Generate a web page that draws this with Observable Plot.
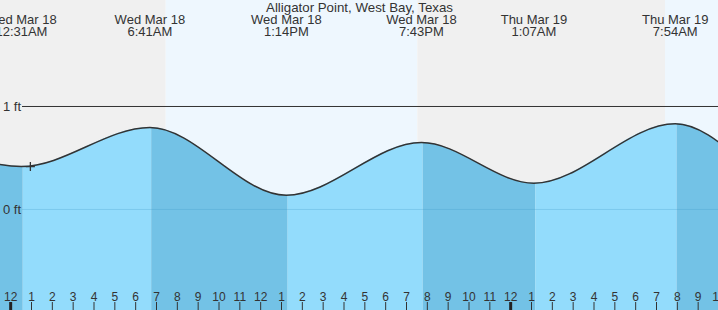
<!DOCTYPE html>
<html><head><meta charset="utf-8">
<script src="https://cdn.jsdelivr.net/npm/d3@7"></script>
<script src="https://cdn.jsdelivr.net/npm/@observablehq/plot@0.6"></script>
<style>body{margin:0;background:#fff} svg{display:block}</style>
</head><body><div id="chart"></div>
<script>
const title = "Alligator Point, West Bay, Texas";
// hours since Wed Mar 18, 00:00
const tideHours = [-12.3, -5.8, 0.517, 6.683, 13.233, 19.717, 25.117, 31.9, 38.2, 44.6];
const tideFeet  = [0.30, 0.70, 0.417, 0.796, 0.138, 0.650, 0.255, 0.832, 0.14, 0.70];
const tideDays  = [null, null, "Wed Mar 18", "Wed Mar 18", "Wed Mar 18", "Wed Mar 18", "Thu Mar 19", "Thu Mar 19", null, null];
const tideClock = [null, null, "12:31AM", "6:41AM", "1:14PM", "7:43PM", "1:07AM", "7:54AM", null, null];
const sunEdges  = [-1, 7.466, 19.543, 31.433, 35];
const sunKinds  = ["night", "day", "night", "day"];
const hourValues = [0,1,2,3,4,5,6,7,8,9,10,11,12,13,14,15,16,17,18,19,20,21,22,23,24,25,26,27,28,29,30,31,32,33,34];
const hourLabels = ["12","1","2","3","4","5","6","7","8","9","10","11","12","1","2","3","4","5","6","7","8","9","10","11","12","1","2","3","4","5","6","7","8","9","10"];
const midnights = [0, 24];
const levelTicks = [1, 0];
const levelLabels = ["1 ft", "0 ft"];
const nowHour = 0.946, nowFeet = 0.417;
const xDomain = [-0.488, 33.976];
const yDomain = [-0.9806, 2.0291];

const tide = tideHours.map((h, i) => ({h, ft: tideFeet[i]}));
const water = tideHours.slice(0, -1).map((h, i) => ({x1: h, x2: tideHours[i + 1], falling: tideFeet[i + 1] < tideFeet[i]}));
const sky = sunKinds.map((k, i) => ({x1: sunEdges[i], x2: sunEdges[i + 1], kind: k}));
const tideLabels = tideHours.map((h, i) => ({h, text: tideDays[i] ? tideDays[i] + "\n" + tideClock[i] : null})).filter(d => d.text);
const plusSymbol = {draw(ctx) { const r = 4.5; ctx.moveTo(-r, 0); ctx.lineTo(r, 0); ctx.moveTo(0, -r); ctx.lineTo(0, r); }};

const plot = Plot.plot({
  width: 718, height: 310, margin: 0,
  x: {domain: xDomain, axis: null},
  y: {domain: yDomain, axis: null},
  style: {fontFamily: "'Liberation Sans', Arial, sans-serif", background: "transparent", overflow: "hidden"},
  marks: [
    Plot.rect(sky, {x1: "x1", x2: "x2", fill: d => d.kind === "day" ? "#eef7fe" : "#f0f0f0"}),
    Plot.rect(water, {x1: "x1", x2: "x2", dx: 1.8, fill: d => d.falling ? "#73c2e6" : "#93dcfc"}),
    Plot.areaY(tide, {x: "h", y1: yDomain[0], y2: "ft", curve: "monotone-x", fill: "black"}),
    Plot.ruleY([0], {stroke: "rgb(60,150,200)", strokeOpacity: 0.25, insetLeft: 22}),
    Plot.ruleY([1], {stroke: "#333", insetLeft: 22}),
    Plot.line(tide, {x: "h", y: "ft", curve: "monotone-x", stroke: "#333", strokeWidth: 1.5}),
    Plot.dot([{h: nowHour, ft: nowFeet}], {x: "h", y: "ft", symbol: plusSymbol, r: 4.5, fill: "none", stroke: "#333", strokeWidth: 1.3}),
    Plot.text(tideLabels, {x: "h", text: "text", frameAnchor: "top", lineAnchor: "top", dy: 14.8, lineHeight: 0.923, fontSize: 13, fill: "#333"}),
    Plot.text([title], {frameAnchor: "top", lineAnchor: "top", dy: 1.6, fontSize: 13.3, fill: "#333"}),
    Plot.text(levelTicks, {y: d => d, text: (d, i) => levelLabels[i], frameAnchor: "left", textAnchor: "start", dx: 2.5, fontSize: 13, fill: "#333"}),
    Plot.ruleX(hourValues, {insetTop: 302, stroke: "#333"}),
    Plot.ruleX(midnights, {insetTop: 302, stroke: "#222", strokeWidth: 3}),
    Plot.text(hourValues, {x: d => d, text: (d, i) => hourLabels[i], frameAnchor: "bottom", lineAnchor: "middle", dy: -13.8, fontSize: 12, fill: "#333"})
  ]
});

// clip the water bands to the area under the tide curve
const svgNode = plot.tagName.toLowerCase() === "svg" ? plot : plot.querySelector("svg");
const layers = Array.from(svgNode.children).filter(n => !["style", "defs", "title", "desc"].includes(n.tagName.toLowerCase()));
const waterNode = layers[1], areaNode = layers[2];
const areaPath = areaNode.tagName.toLowerCase() === "path" ? areaNode : areaNode.querySelector("path");
const NS = "http://www.w3.org/2000/svg";
const defs = document.createElementNS(NS, "defs");
const cp = document.createElementNS(NS, "clipPath");
cp.setAttribute("id", "waterclip");
const p = document.createElementNS(NS, "path");
p.setAttribute("d", areaPath.getAttribute("d"));
const tf = [areaNode.getAttribute("transform"), areaPath !== areaNode ? areaPath.getAttribute("transform") : null].filter(Boolean).join(" ");
if (tf) p.setAttribute("transform", tf);
cp.appendChild(p);
defs.appendChild(cp);
svgNode.insertBefore(defs, svgNode.firstChild);
const wrap = document.createElementNS(NS, "g");
svgNode.insertBefore(wrap, waterNode);
wrap.appendChild(waterNode);
wrap.setAttribute("clip-path", "url(#waterclip)");
areaNode.remove();
document.getElementById("chart").appendChild(plot);
</script>
</body></html>
